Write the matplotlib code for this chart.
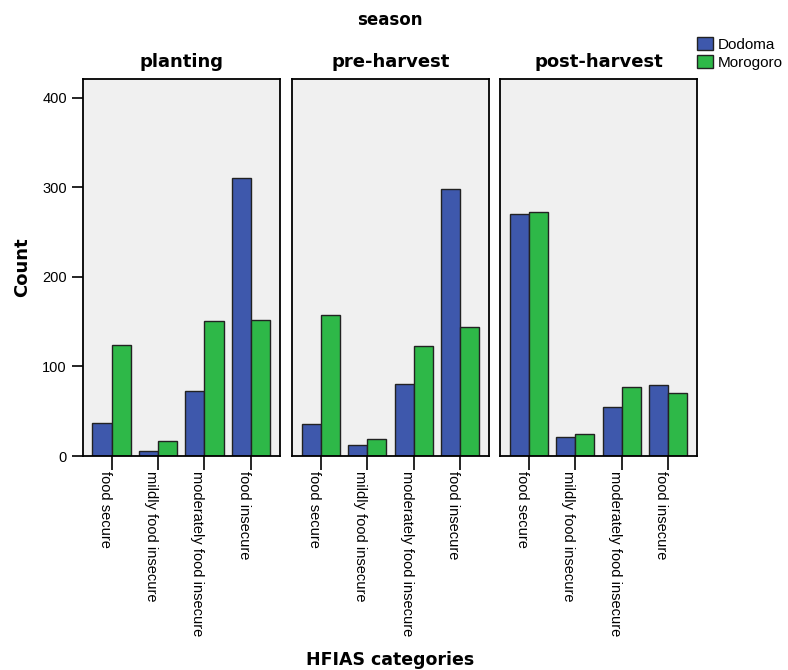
import numpy as np
import matplotlib.pyplot as plt

categories = ['food secure', 'mildly food insecure', 'moderately food insecure', 'food insecure']
seasons = ['planting', 'pre-harvest', 'post-harvest']
regions = ['Dodoma', 'Morogoro']

dodoma = {
    'planting': [37, 6, 73, 311],
    'pre-harvest': [36, 12, 80, 298],
    'post-harvest': [270, 21, 55, 79],
}
morogoro = {
    'planting': [124, 17, 151, 152],
    'pre-harvest': [158, 19, 123, 144],
    'post-harvest': [272, 25, 77, 70],
}

blue = '#3E58AC'
green = '#2EB848'

plt.rcParams['font.family'] = ['Liberation Sans', 'DejaVu Sans']

fig = plt.figure(figsize=(7.88, 6.7), dpi=100)
lefts = [0.105, 0.3706, 0.6345]
width = 0.25
bottom, top = 0.3194, 0.882
x = np.arange(len(categories))
w = 0.41

axes = []
for i, s in enumerate(seasons):
    ax = fig.add_axes([lefts[i], bottom, width, top - bottom])
    ax.set_facecolor('#F0F0F0')
    ax.bar(x - w / 2, dodoma[s], w, color=blue, edgecolor='#222222', linewidth=1, label=regions[0])
    ax.bar(x + w / 2, morogoro[s], w, color=green, edgecolor='#222222', linewidth=1, label=regions[1])
    ax.set_xlim(-0.62, 3.62)
    ax.set_ylim(0, 421)
    ax.set_xticks(x)
    ax.set_xticklabels(categories, rotation=-90, fontsize=10.5, va='top', ha='left')
    ax.tick_params(axis='x', length=10, width=1.2, pad=1)
    for lbl in ax.get_xticklabels():
        lbl.set_rotation_mode('anchor')
    for sp in ax.spines.values():
        sp.set_linewidth(1.3)
    ax.set_title(s, fontsize=13, fontweight='bold', family='DejaVu Sans', pad=9)
    if i == 0:
        ax.set_yticks([0, 100, 200, 300, 400])
        ax.tick_params(axis='y', length=8, width=1.2, labelsize=10.5)
        ax.set_ylabel('Count', fontsize=13, fontweight='bold', family='DejaVu Sans', labelpad=8)
    else:
        ax.set_yticks([])
    axes.append(ax)

fig.text(0.495, 0.97, 'season', ha='center', va='center', fontsize=12, fontweight='bold', family='DejaVu Sans')
fig.text(0.495, 0.015, 'HFIAS categories', ha='center', va='center', fontsize=12.5, fontweight='bold', family='DejaVu Sans')

handles, labels = axes[0].get_legend_handles_labels()
fig.legend(handles, labels, loc='upper left', bbox_to_anchor=(0.885, 0.945), frameon=False,
           fontsize=11, handlelength=1.05, handleheight=0.92, handletextpad=0.3, labelspacing=0.25,
           borderpad=0, borderaxespad=0)

fig.savefig('out.png', dpi=100, facecolor='white')
